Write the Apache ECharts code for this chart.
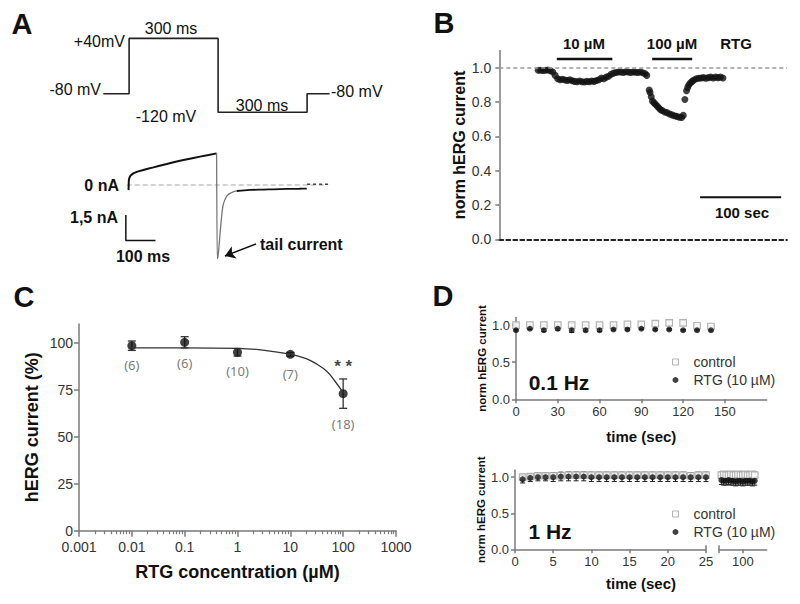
<!DOCTYPE html>
<html>
<head>
<meta charset="utf-8">
<script src="https://cdn.jsdelivr.net/npm/echarts@6/dist/echarts.min.js"></script>
<style>
html, body { margin: 0; padding: 0; background: #fff; }
#fig { width: 800px; height: 604px; }
</style>
</head>
<body>
<div id="fig"></div>
<script>
// ---------- A: voltage protocol (ms, mV) ----------
var protoT = [0, 87, 87, 387, 387, 687, 687, 763];
var protoV = [-80, -80, 40, 40, -120, -120, -80, -80];

// A: current trace (ms, nA)
var actT = [85, 86, 88, 92, 101, 115, 135, 150, 169, 190, 214, 240, 270, 300, 326, 355, 382];
var actI = [-0.3, 0.25, 0.42, 0.55, 0.68, 0.78, 0.88, 0.95, 1.03, 1.13, 1.23, 1.35, 1.46, 1.57, 1.66, 1.75, 1.85];
var tailT = [382, 384, 386, 389, 392, 395, 398, 401, 404, 409, 414, 420, 427, 438, 450];
var tailI = [1.85, -4.3, -4.25, -3.8, -3.2, -2.55, -2.0, -1.5, -1.17, -0.9, -0.72, -0.58, -0.49, -0.4, -0.35];
var steadyT = [450, 494, 540, 573, 620, 660, 686];
var steadyI = [-0.35, -0.29, -0.27, -0.25, -0.23, -0.22, -0.21];
var postT = [687, 700, 720, 740, 763];
var postI = [0.04, 0.04, 0.04, 0.04, 0.04];
var zeroT = [79, 753];
var zeroI = [0, 0];
var scaleAT = [76, 76, 176];      // 100 ms
var scaleAI = [-1.75, -3.25, -3.25]; // 1.5 nA
var arrowFrom = [515, -3.45];
var arrowTo = [410, -4.15];

// ---------- B: time course (s, normalised current) ----------
var bT = [48, 51, 54, 57, 60, 63, 66, 69, 72, 75, 78, 81, 84, 87, 90, 93, 96, 99, 102, 105,
  108, 111, 114, 117, 120, 123, 126, 129, 132, 135, 138, 141, 144, 147, 150, 153, 156, 159, 162, 165,
  168, 171, 174, 177, 180, 182, 185, 186, 187.5, 189, 191, 193, 195, 197, 199, 201, 204, 207, 210, 213,
  216, 219, 222, 225, 227, 229, 231, 232.5, 234, 236, 238, 240, 243, 246, 249, 252, 255, 258, 261, 264,
  267, 270, 273, 276];
var bV = [0.985, 0.985, 0.983, 0.985, 0.986, 0.982, 0.975, 0.955, 0.935, 0.93, 0.932, 0.928, 0.925, 0.93, 0.924, 0.92, 0.918, 0.922, 0.918, 0.916,
  0.92, 0.918, 0.922, 0.92, 0.925, 0.93, 0.94, 0.935, 0.945, 0.95, 0.962, 0.968, 0.972, 0.975, 0.975, 0.972, 0.976, 0.975, 0.972, 0.975,
  0.973, 0.972, 0.975, 0.97, 0.965, 0.955, 0.87, 0.855, 0.83, 0.805, 0.795, 0.785, 0.775, 0.765, 0.755, 0.75, 0.742, 0.738, 0.73, 0.725,
  0.72, 0.716, 0.712, 0.71, 0.722, 0.815, 0.865, 0.885, 0.9, 0.912, 0.92, 0.928, 0.935, 0.938, 0.94, 0.942, 0.938, 0.942, 0.945, 0.94,
  0.945, 0.942, 0.945, 0.94];
var bDrugOn = [71, 188.6];
var bDrugOff = [139.5, 238];
var bDrugLevel = 1.05;
var bScale = [247.8, 347.8];
var bScaleLevel = 0.245;
var bTicks = [0, 0.2, 0.4, 0.6, 0.8, 1.0];

// ---------- C: concentration-response ----------
var concC = [0.01, 0.1, 1, 10, 100];
var meanC = [98.4, 100.2, 94.9, 93.8, 72.9];
var semC = [2.5, 3.0, 2.0, 1.0, 7.8];
var nC = ['(6)', '(6)', '(10)', '(7)', '(18)'];
var fitX = [0.0088, 0.01, 0.1, 1, 3, 10, 20, 30, 50, 70, 100];
var fitY = [97.3, 97.3, 97.3, 97.0, 96.1, 93.9, 91.5, 89.0, 84.6, 79.5, 73.5];
var xTicksC = [0.001, 0.01, 0.1, 1, 10, 100, 1000];
var xLabelsC = ['0.001', '0.01', '0.1', '1', '10', '100', '1000'];
var minorMult = [2, 3, 4, 5, 6, 7, 8, 9];
var yTicksC = [0, 25, 50, 75, 100];

// ---------- D: 0.1 Hz ----------
var tD01 = [0, 10, 20, 30, 40, 50, 60, 70, 80, 90, 100, 110, 120, 130, 140];
var ctrl01 = [1.0, 1.0, 1.0, 1.0, 1.0, 1.0, 1.0, 1.0, 1.01, 1.01, 1.02, 1.03, 1.03, 0.99, 0.98];
var ctrl01Sem = [0.02, 0.01, 0.01, 0.01, 0.02, 0.01, 0.01, 0.01, 0.01, 0.02, 0.03, 0.03, 0.03, 0.02, 0.01];
var rtg01 = [0.93, 0.95, 0.93, 0.95, 0.93, 0.93, 0.93, 0.94, 0.94, 0.95, 0.94, 0.94, 0.93, 0.93, 0.93];
var rtg01Sem = [0.01, 0.01, 0.02, 0.02, 0.03, 0.02, 0.02, 0.01, 0.01, 0.01, 0.01, 0.01, 0.01, 0.01, 0.01];
var xTicksD01 = [0, 30, 60, 90, 120, 150];

// ---------- D: 1 Hz (0-25 s and around 100 s) ----------
var tD1 = [1, 2, 3, 4, 5, 6, 7, 8, 9, 10, 11, 12, 13, 14, 15, 16, 17, 18, 19, 20, 21, 22, 23, 24, 25];
var ctrl1 = [1.0, 1.01, 1.02, 1.02, 1.02, 1.02, 1.03, 1.03, 1.03, 1.03, 1.03, 1.03, 1.03, 1.03, 1.03, 1.03, 1.03, 1.03, 1.03, 1.03, 1.03, 1.03, 1.02, 1.03, 1.03];
var ctrl1Sem = [0.04, 0.04, 0.04, 0.04, 0.04, 0.045, 0.045, 0.045, 0.045, 0.045, 0.045, 0.045, 0.045, 0.045, 0.045, 0.045, 0.045, 0.045, 0.045, 0.045, 0.045, 0.045, 0.045, 0.045, 0.045];
var rtg1 = [0.97, 0.99, 1.0, 1.0, 1.0, 1.01, 1.01, 1.01, 1.01, 1.0, 1.0, 1.0, 1.0, 1.0, 1.0, 1.0, 1.0, 1.0, 1.0, 1.0, 1.0, 1.0, 1.0, 1.0, 1.0];
var rtg1Sem = [0.05, 0.05, 0.05, 0.05, 0.06, 0.06, 0.06, 0.06, 0.06, 0.06, 0.06, 0.06, 0.06, 0.06, 0.06, 0.06, 0.06, 0.06, 0.06, 0.06, 0.06, 0.06, 0.06, 0.06, 0.06];
var tD1b = [91, 92, 93, 94, 95, 96, 97, 98, 99, 100, 101, 102, 103, 104, 105];
var ctrl1b = [1.03, 1.04, 1.03, 1.03, 1.04, 1.03, 1.03, 1.04, 1.03, 1.03, 1.04, 1.03, 1.03, 1.04, 1.03];
var ctrl1bSem = [0.04, 0.04, 0.04, 0.04, 0.04, 0.04, 0.04, 0.04, 0.04, 0.04, 0.04, 0.04, 0.04, 0.04, 0.04];
var rtg1b = [0.96, 0.95, 0.95, 0.96, 0.95, 0.95, 0.94, 0.95, 0.95, 0.94, 0.95, 0.95, 0.95, 0.94, 0.95];
var rtg1bSem = [0.06, 0.06, 0.06, 0.06, 0.06, 0.06, 0.06, 0.06, 0.06, 0.06, 0.06, 0.06, 0.06, 0.06, 0.06];
var xTicksD1 = [0, 5, 10, 15, 20, 25];
var yTicksD = [0, 0.5, 1.0];
var breakAt = [25, 90];   // axis break marks (s)

var FONT = '"Liberation Sans", Arial, sans-serif';
var AXIS_GREY = '#7a7a7a';

function pairs(xs, ys) {
	return xs.map(function (x, i) { return [x, ys[i]]; });
}
function spans(xs, m, s) {
	return xs.map(function (x, i) { return [x, m[i] - s[i], m[i] + s[i]]; });
}
function errorBar(color, cap, width) {
	return function (params, api) {
		var lo = api.coord([api.value(0), api.value(1)]);
		var hi = api.coord([api.value(0), api.value(2)]);
		var st = { stroke: color, lineWidth: width };
		return {
			type: 'group',
			children: [
				{ type: 'line', shape: { x1: lo[0], y1: lo[1], x2: hi[0], y2: hi[1] }, style: st },
				{ type: 'line', shape: { x1: lo[0] - cap, y1: lo[1], x2: lo[0] + cap, y2: lo[1] }, style: st },
				{ type: 'line', shape: { x1: hi[0] - cap, y1: hi[1], x2: hi[0] + cap, y2: hi[1] }, style: st }
			]
		};
	};
}
function fixed1(v) { return (Math.round(v * 10) / 10).toFixed(1); }

// log minor tick positions between the decades
var minorTicksC = [];
xTicksC.slice(0, -1).forEach(function (d) {
	minorMult.forEach(function (m) { minorTicksC.push(d * m); });
});

// visible axis template
function axis(grid, type, min, max, ticks, fontSize, extra) {
	var a = {
		gridIndex: grid, type: type, min: min, max: max,
		axisLine: { show: true, lineStyle: { color: AXIS_GREY, width: 1.5 } },
		axisTick: { show: true, length: 4, customValues: ticks, lineStyle: { color: AXIS_GREY, width: 1.5 } },
		axisLabel: { customValues: ticks, color: '#333', fontFamily: FONT, fontSize: fontSize, margin: 6 },
		splitLine: { show: false }
	};
	for (var k in extra) a[k] = extra[k];
	return a;
}
function hidden(grid, min, max) {
	return { gridIndex: grid, type: 'value', min: min, max: max, show: false, splitLine: { show: false } };
}
function txt(x, y, s, size, weight, align, color) {
	return {
		type: 'text', x: x, y: y,
		style: { text: s, fontFamily: FONT, fontSize: size, fontWeight: weight || 'normal',
			fill: color || '#111', align: align || 'center', verticalAlign: 'middle' }
	};
}

var chart = echarts.init(document.getElementById('fig'), null, { renderer: 'svg', width: 800, height: 604 });

var legendBase = {
	data: [
		{ name: 'control', icon: 'rect', itemStyle: { color: '#fff', borderColor: '#a0a0a0', borderWidth: 1 } },
		{ name: 'RTG (10 µM)', icon: 'circle', itemStyle: { color: '#111', borderWidth: 0 } }
	],
	orient: 'vertical', left: 667, itemWidth: 6, itemHeight: 6, itemGap: 4,
	selectedMode: false, textStyle: { fontFamily: FONT, fontSize: 14, color: '#333', padding: [0, 0, 0, 10] }
};

var option = {
	backgroundColor: '#fff',
	animation: false,
	grid: [
		{ left: 103.3, width: 237.3, top: 29.2, height: 92.2 },   // 0 A protocol
		{ left: 103.3, width: 237.3, top: 133.7, height: 136.8 }, // 1 A current
		{ left: 499.3, right: 13, top: 50.5, bottom: 364.7 },     // 2 B
		{ left: 79, right: 404, top: 323.9, bottom: 73.3 },       // 3 C
		{ left: 516, right: 33.3, top: 317.6, bottom: 204.7 },    // 4 D 0.1 Hz
		{ left: 515, right: 94, top: 470, bottom: 54.7 },         // 5 D 1 Hz, 0-25 s
		{ left: 719, right: 33.3, top: 470, bottom: 54.7 }        // 6 D 1 Hz, ~100 s
	],
	xAxis: [
		hidden(0, 0, 800),
		hidden(1, 0, 800),
		{ gridIndex: 2, type: 'value', min: 0, max: 355,
			axisLine: { show: true, onZero: false, lineStyle: { color: '#222', width: 1.8, type: [4, 3] } },
			axisTick: { show: false }, axisLabel: { show: false }, splitLine: { show: false } },
		axis(3, 'log', 0.001, 1000, xTicksC, 14, {
			logBase: 10,
			axisTick: { show: true, length: 6, customValues: xTicksC, lineStyle: { color: AXIS_GREY, width: 1.5 } },
			axisLabel: { customValues: xTicksC, color: '#333', fontFamily: FONT, fontSize: 14, margin: 9,
				formatter: function (v) { return xLabelsC[Math.round(Math.log10(v)) + 3]; } },
			name: 'RTG concentration (µM)', nameLocation: 'middle', nameGap: 32,
			nameTextStyle: { fontFamily: FONT, fontSize: 18, fontWeight: 'bold', color: '#111' }
		}),
		axis(4, 'value', 0, 180, xTicksD01, 13, {
			name: 'time (sec)', nameLocation: 'middle', nameGap: 30,
			nameTextStyle: { fontFamily: FONT, fontSize: 15, fontWeight: 'bold', color: '#111' }
		}),
		axis(5, 'value', 0, 25, xTicksD1, 13, {}),
		axis(6, 'value', 90, 110, [90, 100], 13, {
			axisLabel: { customValues: [100], color: '#333', fontFamily: FONT, fontSize: 13, margin: 6 }
		}),
		// C: minor log ticks
		{ gridIndex: 3, type: 'log', logBase: 10, min: 0.001, max: 1000, position: 'bottom',
			axisLine: { show: false }, axisLabel: { show: false }, splitLine: { show: false },
			axisTick: { show: true, length: 3.5, customValues: minorTicksC, lineStyle: { color: AXIS_GREY, width: 1.2 } } }
	],
	yAxis: [
		hidden(0, -140, 60),
		hidden(1, -5, 3),
		axis(2, 'value', 0, 1.1, bTicks, 14, {
			axisLabel: { customValues: bTicks, color: '#333', fontFamily: FONT, fontSize: 14, margin: 8, formatter: fixed1 },
			name: 'norm hERG current', nameLocation: 'middle', nameGap: 30,
			nameTextStyle: { fontFamily: FONT, fontSize: 16, fontWeight: 'bold', color: '#111' }
		}),
		axis(3, 'value', 0, 110, yTicksC, 14, {
			axisTick: { show: true, length: 5, customValues: yTicksC, lineStyle: { color: AXIS_GREY, width: 1.5 } },
			name: 'hERG current (%)', nameLocation: 'middle', nameGap: 38,
			nameTextStyle: { fontFamily: FONT, fontSize: 18, fontWeight: 'bold', color: '#111' }
		}),
		axis(4, 'value', 0, 1.1, yTicksD, 13, {
			axisLabel: { customValues: yTicksD, color: '#333', fontFamily: FONT, fontSize: 13, margin: 6, formatter: fixed1 },
			name: 'norm hERG current', nameLocation: 'middle', nameGap: 28,
			nameTextStyle: { fontFamily: FONT, fontSize: 11.5, fontWeight: 'bold', color: '#111' }
		}),
		axis(5, 'value', 0, 1.1, yTicksD, 13, {
			axisLabel: { customValues: yTicksD, color: '#333', fontFamily: FONT, fontSize: 13, margin: 6, formatter: fixed1 },
			name: 'norm hERG current', nameLocation: 'middle', nameGap: 28,
			nameTextStyle: { fontFamily: FONT, fontSize: 11.5, fontWeight: 'bold', color: '#111' }
		}),
		hidden(6, 0, 1.1)
	],
	legend: [
		Object.assign({}, legendBase, { top: 350 }),
		Object.assign({}, legendBase, { top: 502 })
	],
	series: [],
	graphic: []
};

var S = option.series;

// ----- A -----
S.push({ type: 'line', xAxisIndex: 0, yAxisIndex: 0, data: pairs(protoT, protoV), symbol: 'none',
	lineStyle: { color: '#222', width: 1.6 } });
S.push({ type: 'line', xAxisIndex: 1, yAxisIndex: 1, data: pairs(zeroT, zeroI), symbol: 'none',
	lineStyle: { color: '#c4c4c4', width: 1.5, type: [5, 3] } });
S.push({ type: 'line', xAxisIndex: 1, yAxisIndex: 1, data: pairs(postT, postI), symbol: 'none',
	lineStyle: { color: '#444', width: 1.4, type: [3, 3] } });
S.push({ type: 'line', xAxisIndex: 1, yAxisIndex: 1, data: pairs(actT, actI), symbol: 'none',
	lineStyle: { color: '#111', width: 2 } });
S.push({ type: 'line', xAxisIndex: 1, yAxisIndex: 1, data: pairs(tailT, tailI), symbol: 'none', smooth: 0.2,
	lineStyle: { color: '#777', width: 1.3 },
	markLine: { silent: true, symbol: ['none', 'arrow'], symbolSize: 10, label: { show: false },
		lineStyle: { color: '#111', width: 1.5, type: 'solid' }, itemStyle: { color: '#111' },
		data: [[{ coord: arrowFrom }, { coord: arrowTo }]] } });
S.push({ type: 'line', xAxisIndex: 1, yAxisIndex: 1, data: pairs(steadyT, steadyI), symbol: 'none', smooth: 0.3,
	lineStyle: { color: '#111', width: 1.8 } });
S.push({ type: 'line', xAxisIndex: 1, yAxisIndex: 1, data: pairs(scaleAT, scaleAI), symbol: 'none',
	lineStyle: { color: '#111', width: 1.5 } });

// ----- B -----
S.push({ type: 'scatter', xAxisIndex: 2, yAxisIndex: 2, data: pairs(bT, bV), symbolSize: 7,
	itemStyle: { color: '#111' },
	markLine: { silent: true, symbol: 'none', label: { show: false },
		lineStyle: { color: '#999', width: 1.5, type: [4, 3] }, data: [{ yAxis: 1 }] } });
bDrugOn.forEach(function (t0, i) {
	S.push({ type: 'line', xAxisIndex: 2, yAxisIndex: 2, symbol: 'none',
		data: [[t0, bDrugLevel], [bDrugOff[i], bDrugLevel]], lineStyle: { color: '#111', width: 2.5 } });
});
S.push({ type: 'line', xAxisIndex: 2, yAxisIndex: 2, symbol: 'none',
	data: [[bScale[0], bScaleLevel], [bScale[1], bScaleLevel]], lineStyle: { color: '#111', width: 2 } });

// ----- C -----
var labelDy = [19, 21, 19, 20, 30];
S.push({ type: 'line', xAxisIndex: 3, yAxisIndex: 3, data: pairs(fitX, fitY), symbol: 'none', smooth: 0.4,
	lineStyle: { color: '#333', width: 1.3 } });
S.push({ type: 'custom', xAxisIndex: 3, yAxisIndex: 3, data: spans(concC, meanC, semC),
	encode: { x: 0, y: [1, 2] }, renderItem: errorBar('#333', 4, 1.3) });
S.push({ type: 'scatter', xAxisIndex: 3, yAxisIndex: 3, symbolSize: 9, itemStyle: { color: '#111' },
	data: concC.map(function (c, i) {
		return { value: [c, meanC[i]],
			label: { show: true, position: 'inside', offset: [0, labelDy[i]], formatter: nC[i],
				fontFamily: '"Noto Sans", sans-serif', fontSize: 13, color: '#555' } };
	}) });
S.push({ type: 'scatter', xAxisIndex: 3, yAxisIndex: 3, symbolSize: 0,
	data: [[concC[4], meanC[4] + semC[4]]],
	label: { show: true, position: 'top', distance: 4, formatter: '* *',
		fontFamily: FONT, fontSize: 17, fontWeight: 'bold', color: '#111' } });

// ----- D -----
function dSeries(xi, t, cm, cs, rm, rs) {
	S.push({ type: 'custom', xAxisIndex: xi, yAxisIndex: xi, data: spans(t, cm, cs),
		encode: { x: 0, y: [1, 2] }, renderItem: errorBar('#a0a0a0', 2.5, 1) });
	S.push({ type: 'scatter', name: 'control', xAxisIndex: xi, yAxisIndex: xi, data: pairs(t, cm),
		symbol: 'rect', symbolSize: 6.5, itemStyle: { color: '#fff', borderColor: '#a0a0a0', borderWidth: 1.2 } });
	S.push({ type: 'custom', xAxisIndex: xi, yAxisIndex: xi, data: spans(t, rm, rs),
		encode: { x: 0, y: [1, 2] }, renderItem: errorBar('#222', 2.5, 1) });
	S.push({ type: 'scatter', name: 'RTG (10 µM)', xAxisIndex: xi, yAxisIndex: xi, data: pairs(t, rm),
		symbol: 'circle', symbolSize: 6, itemStyle: { color: '#111' } });
}
dSeries(4, tD01, ctrl01, ctrl01Sem, rtg01, rtg01Sem);
dSeries(5, tD1, ctrl1, ctrl1Sem, rtg1, rtg1Sem);
dSeries(6, tD1b, ctrl1b, ctrl1bSem, rtg1b, rtg1bSem);

// axis break marks on the 1 Hz time axis (upper half; lower half is the tick)
[5, 6].forEach(function (gi, i) {
	S.push({ type: 'line', xAxisIndex: gi, yAxisIndex: gi, symbol: 'none', clip: false, silent: true,
		data: [[breakAt[i], 0], [breakAt[i], 0.055]], lineStyle: { color: AXIS_GREY, width: 1.5 } });
});

// ----- text annotations -----
var G = option.graphic;
G.push(txt(22, 24, 'A', 29, 'bold'));
G.push(txt(444, 23, 'B', 29, 'bold'));
G.push(txt(24, 297, 'C', 29, 'bold'));
G.push(txt(443, 296, 'D', 29, 'bold'));

G.push(txt(125, 41, '+40mV', 16, 'normal', 'right'));
G.push(txt(171, 28, '300 ms', 16));
G.push(txt(101, 89, '-80 mV', 16, 'normal', 'right'));
G.push(txt(166, 116, '-120 mV', 16));
G.push(txt(262, 105, '300 ms', 16));
G.push(txt(331, 91, '-80 mV', 16, 'normal', 'left'));
G.push(txt(119, 185, '0 nA', 16, 'bold', 'right'));
G.push(txt(118, 217, '1,5 nA', 16, 'bold', 'right'));
G.push(txt(143, 256, '100 ms', 16, 'bold'));
G.push(txt(260, 244, 'tail current', 16, 'bold', 'left'));

G.push(txt(584, 43, '10 µM', 15, 'bold'));
G.push(txt(672, 43, '100 µM', 15, 'bold'));
G.push(txt(736, 43, 'RTG', 15, 'bold'));
G.push(txt(742, 212, '100 sec', 15, 'bold'));

G.push(txt(559, 382, '0.1 Hz', 21, 'bold'));
G.push(txt(550, 531, '1 Hz', 21, 'bold'));
G.push(txt(641, 583, 'time (sec)', 15, 'bold'));

chart.setOption(option);

window.onresize = function () {
	chart.resize();
};
</script>
</body>
</html>
